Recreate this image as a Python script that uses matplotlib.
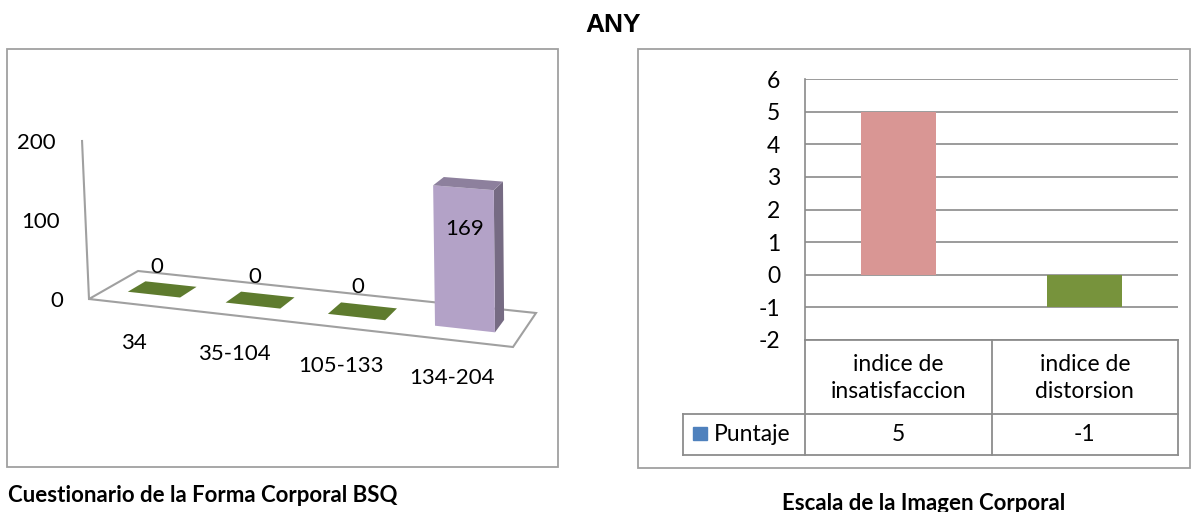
import numpy as np
import matplotlib
matplotlib.use('Agg')
import matplotlib.pyplot as plt
from matplotlib.patches import Polygon, Rectangle

plt.rcParams['font.family'] = ['Lato', 'DejaVu Sans']
plt.rcParams['axes.unicode_minus'] = False

# datos - grafico izquierdo (BSQ)
bsq_cats = ['34', '35-104', '105-133', '134-204']
bsq_vals = [0, 0, 0, 169]
bsq_ticks = [0, 100, 200]
bsq_colors = ['#5E7B2E', '#5E7B2E', '#5E7B2E', '#B3A2C7']

# datos - grafico derecho (imagen corporal)
eic_cats = ['indice de\ninsatisfaccion', 'indice de\ndistorsion']
eic_vals = [5, -1]
eic_colors = ['#D99694', '#77933C']
eic_serie = 'Puntaje'

W, H = 1198, 512
fig = plt.figure(figsize=(W / 100, H / 100), dpi=100)
fig.patch.set_facecolor('white')

# capa en pixeles para marcos, textos y el grafico 3D
ov = fig.add_axes([0, 0, 1, 1])
ov.set_xlim(0, W)
ov.set_ylim(H, 0)
ov.axis('off')

grey = '#A0A0A0'
ov.add_patch(Rectangle((7, 49), 551, 418, fill=False, ec=grey, lw=1.3))
ov.add_patch(Rectangle((638, 49), 552, 419, fill=False, ec=grey, lw=1.3))

ov.text(613, 25, 'ANY', ha='center', va='center', fontsize=19,
        fontweight='bold', family=['Liberation Sans', 'DejaVu Sans'])
ov.text(8, 495, 'Cuestionario de la Forma Corporal BSQ', ha='left', va='center',
        fontsize=16, fontweight='bold')
ov.text(924, 503, 'Escala de la Imagen Corporal', ha='center', va='center',
        fontsize=16, fontweight='bold')

# ---- grafico 3D en perspectiva (proyeccion del suelo) ----
floor_px = [(89, 299), (513, 347), (536, 313), (138, 271)]  # FL, FR, BR, BL
floor_uv = [(0, 0), (1, 0), (1, 1), (0, 1)]


def homografia(src, dst):
    A, b = [], []
    for (u, w), (x, y) in zip(src, dst):
        A.append([u, w, 1, 0, 0, 0, -u * x, -w * x]); b.append(x)
        A.append([0, 0, 0, u, w, 1, -u * y, -w * y]); b.append(y)
    h = np.linalg.solve(np.array(A, float), np.array(b, float))
    return np.append(h, 1).reshape(3, 3)


Hm = homografia(floor_uv, floor_px)
k0 = 158 / 200


def proj(u, w, v):
    x, y, d = Hm @ np.array([u, w, 1.0])
    x, y = x / d, y / d
    hpx = v * k0 / d
    tilt = 0.044 - 0.038 * u
    return (x - tilt * hpx, y - hpx)


n = len(bsq_cats)
ov.add_patch(Polygon([proj(u, w, 0) for u, w in floor_uv], closed=True,
                     fill=False, ec=grey, lw=1.5, zorder=2))
ov.plot(*zip(proj(0, 0, 0), proj(0, 0, max(bsq_ticks))), color=grey, lw=1.5, zorder=2)

for t in bsq_ticks:
    px, py = proj(0, 0, t)
    ov.text(px - 26, py + 2, str(t), ha='right', va='center', fontsize=16)

hw = 0.27 / n
w0, w1 = 0.33, 0.70
for i, (cat, val, col) in enumerate(zip(bsq_cats, bsq_vals, bsq_colors)):
    uc = (i + 0.5) / n
    u0, u1 = uc - hw, uc + hw
    rgb = np.array(matplotlib.colors.to_rgb(col))
    top = [proj(u0, w0, val), proj(u1, w0, val), proj(u1, w1, val), proj(u0, w1, val)]
    if val > 0:
        front = [proj(u0, w0, 0), proj(u1, w0, 0), proj(u1, w0, val), proj(u0, w0, val)]
        side = [proj(u1, w0, 0), proj(u1, w1, 0), proj(u1, w1, val), proj(u1, w0, val)]
        ov.add_patch(Polygon(side, closed=True, fc=rgb * 0.66, ec='none', zorder=3))
        ov.add_patch(Polygon(front, closed=True, fc=rgb, ec='none', zorder=3))
        ov.add_patch(Polygon(top, closed=True, fc=rgb * 0.79, ec='none', zorder=3))
    else:
        ov.add_patch(Polygon(top, closed=True, fc=rgb, ec='none', zorder=3))
    lx, ly = proj(uc, 0.5, val / 2 + 30)
    ov.text(lx - 4, ly, str(val), ha='center', va='center', fontsize=16, zorder=4)
    cx, cy = proj(uc, 0, 0)
    ov.text(cx - 4, cy + 38, cat, ha='center', va='center', fontsize=16)

# ---- grafico de barras derecho ----
ax_l, ax_r, ax_t, ax_b = 805, 1178, 79, 340
ax = fig.add_axes([ax_l / W, 1 - ax_b / H, (ax_r - ax_l) / W, (ax_b - ax_t) / H])
ax.set_facecolor('none')
x = np.arange(len(eic_cats))
ax.bar(x, eic_vals, width=0.4, color=eic_colors, zorder=3)
ax.set_xlim(-0.5, len(eic_cats) - 0.5)
ax.set_ylim(-2, 6)
ax.set_yticks(range(-2, 7))
ax.set_xticks([])
ax.yaxis.grid(True, color='#8A8A8A', lw=1.2, zorder=1)
for s in ['top', 'right', 'bottom']:
    ax.spines[s].set_visible(False)
ax.spines['left'].set_color('#8A8A8A')
ax.spines['left'].set_linewidth(1.2)
ax.tick_params(axis='y', length=0, pad=18, labelsize=16.5)

# tabla de datos
row1, row2, lab_l = 414, 455, 683
tc = '#8C8C8C'
cols = [ax_l + (ax_r - ax_l) * k / len(eic_cats) for k in range(len(eic_cats) + 1)]
ov.plot([ax_l, ax_r], [ax_b, ax_b], color=tc, lw=1.3)
ov.plot([lab_l, ax_r], [row1, row1], color=tc, lw=1.3)
ov.plot([lab_l, ax_r], [row2, row2], color=tc, lw=1.3)
ov.plot([lab_l, lab_l], [row1, row2], color=tc, lw=1.3)
for c in cols:
    ov.plot([c, c], [ax_b, row2], color=tc, lw=1.3)
for k, (cat, val) in enumerate(zip(eic_cats, eic_vals)):
    cx = (cols[k] + cols[k + 1]) / 2
    ov.text(cx, (ax_b + row1) / 2 + 1, cat, ha='center', va='center',
            fontsize=16.5, linespacing=1.3)
    ov.text(cx, (row1 + row2) / 2, str(val), ha='center', va='center', fontsize=16.5)
ov.add_patch(Rectangle((693, 427), 14, 13, color='#4F81BD'))
ov.text(714, (row1 + row2) / 2, eic_serie, ha='left', va='center', fontsize=16.5)

fig.savefig('out.png', dpi=100)
